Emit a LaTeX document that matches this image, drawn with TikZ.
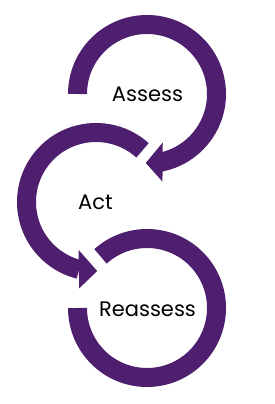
\documentclass[tikz,border=0pt]{standalone}
\usepackage{fontspec}
\setmainfont{Poppins}
\definecolor{cyclepurple}{RGB}{78,31,110}
\tikzset{
  band/.style={draw=cyclepurple, line width=19pt, line cap=butt},
  headfill/.style={fill=cyclepurple, draw=none},
  label/.style={font=\fontsize{21}{21}\selectfont, text=black, anchor=base, inner sep=0pt}
}
\begin{document}
\begin{tikzpicture}[x=1pt,y=1pt]
\useasboundingbox (0,0) rectangle (274,404);
\coordinate (ct) at (147,310);
\coordinate (cm) at (96,202);
\coordinate (cb) at (147,96);
% top arc (Assess)
\draw[band] ([shift={(180:69.5)}]ct) arc[start angle=180, end angle=-79, radius=69.5];
\fill[headfill] ([shift={(-72:51)}]ct) -- ([shift={(-80:89)}]ct) -- ([shift={(-91:69)}]ct) -- cycle;
% middle arc (Act)
\draw[band] ([shift={(48:69.5)}]cm) arc[start angle=48, end angle=256, radius=69.5];
\fill[headfill] ([shift={(250:51)}]cm) -- ([shift={(259:88)}]cm) -- ([shift={(271:69)}]cm) -- cycle;
% bottom arc (Reassess)
\draw[band] ([shift={(132:69.5)}]cb) arc[start angle=132, end angle=-180, radius=69.5];
% labels
\node[label] (assess) at (147.5,302) {Assess};
\node[label] (act) at (95.5,194) {Act};
\node[label] (reassess) at (147.5,87.3) {Reassess};
\end{tikzpicture}
\end{document}
